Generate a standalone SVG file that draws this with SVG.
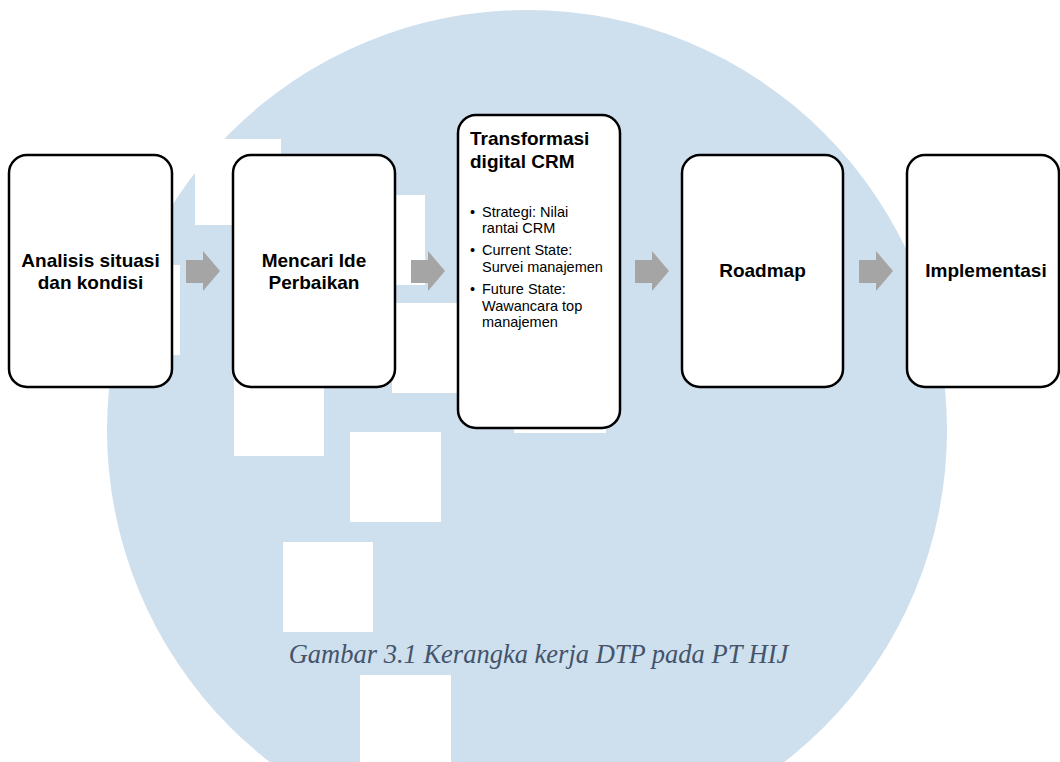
<svg xmlns="http://www.w3.org/2000/svg" width="1060" height="762" viewBox="0 0 1060 762">
  <style>
    .box { fill: #ffffff; stroke: #000000; stroke-width: 2.5; }
    .sq { fill: #ffffff; }
    .arrow { fill: #a5a5a5; }
    .title { font-family: "Liberation Sans", Arial, sans-serif; font-weight: bold; font-size: 19px; fill: #000000; }
    .bul { font-family: "Liberation Sans", Arial, sans-serif; font-size: 14.5px; fill: #000000; }
    .caption { font-family: "Liberation Serif", "Times New Roman", serif; font-style: italic; font-size: 26.5px; fill: #44546a; }
  </style>
  <rect width="1060" height="762" fill="#ffffff"/>
  <g id="watermark">
    <circle cx="527" cy="430" r="420" fill="#cedfee"/>
    <rect class="sq" x="195" y="139" width="86" height="86"/>
    <rect class="sq" x="90" y="265" width="90" height="90"/>
    <rect class="sq" x="335" y="195" width="90" height="90"/>
    <rect class="sq" x="234" y="366" width="90" height="90"/>
    <rect class="sq" x="392" y="303" width="90" height="90"/>
    <rect class="sq" x="350" y="432" width="91" height="90"/>
    <rect class="sq" x="283" y="542" width="90" height="90"/>
    <rect class="sq" x="360" y="675" width="91" height="90"/>
    <rect class="sq" x="514" y="343" width="92" height="90"/>
  </g>
  <g id="connectors">
    <polygon class="arrow" points="186,260 203,260 203,251 220,271 203,291 203,283 186,283"/>
    <polygon class="arrow" points="411,260 428,260 428,251 445,271 428,291 428,283 411,283"/>
    <polygon class="arrow" points="635,260 652,260 652,251 669,271 652,291 652,283 635,283"/>
    <polygon class="arrow" points="859,260 876,260 876,251 893,271 876,291 876,283 859,283"/>
  </g>
  <g id="node1">
    <rect class="box" x="9" y="155" width="163" height="232" rx="18"/>
    <text class="title" text-anchor="middle" x="90.5" y="267">Analisis situasi</text>
    <text class="title" text-anchor="middle" x="90.5" y="289">dan kondisi</text>
  </g>
  <g id="node2">
    <rect class="box" x="233" y="155" width="162" height="232" rx="18"/>
    <text class="title" text-anchor="middle" x="314" y="267">Mencari Ide</text>
    <text class="title" text-anchor="middle" x="314" y="289">Perbaikan</text>
  </g>
  <g id="node3">
    <rect class="box" x="458" y="115" width="162" height="313" rx="18"/>
    <text class="title" x="470" y="145">Transformasi</text>
    <text class="title" x="470" y="168">digital CRM</text>
    <text class="bul" x="470" y="217">•</text>
    <text class="bul" x="482" y="217">Strategi: Nilai</text>
    <text class="bul" x="482" y="233">rantai CRM</text>
    <text class="bul" x="470" y="255">•</text>
    <text class="bul" x="482" y="255">Current State:</text>
    <text class="bul" x="482" y="272">Survei manajemen</text>
    <text class="bul" x="470" y="294">•</text>
    <text class="bul" x="482" y="294">Future State:</text>
    <text class="bul" x="482" y="311">Wawancara top</text>
    <text class="bul" x="482" y="327">manajemen</text>
  </g>
  <g id="node4">
    <rect class="box" x="682" y="155" width="161" height="232" rx="18"/>
    <text class="title" text-anchor="middle" x="762.5" y="277">Roadmap</text>
  </g>
  <g id="node5">
    <rect class="box" x="907" y="155" width="152" height="232" rx="18"/>
    <text class="title" text-anchor="middle" x="986" y="277">Implementasi</text>
  </g>
  <text class="caption" text-anchor="middle" x="538.5" y="663">Gambar 3.1 Kerangka kerja DTP pada PT HIJ</text>
</svg>
